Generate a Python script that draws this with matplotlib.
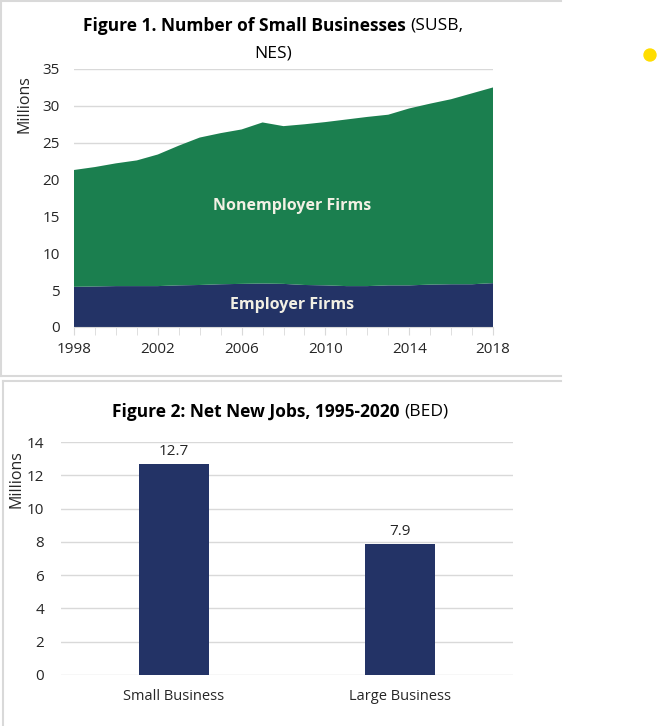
import matplotlib
matplotlib.use("Agg")
import matplotlib.pyplot as plt
from matplotlib.lines import Line2D
from matplotlib.patches import Ellipse
import numpy as np

plt.rcParams['font.family'] = ['Open Sans', 'DejaVu Sans']

# Figure 1 data (millions)
years = list(range(1998, 2019))
employer = [5.45, 5.5, 5.55, 5.55, 5.55, 5.65, 5.7, 5.8, 5.85, 5.9, 5.85,
            5.7, 5.65, 5.55, 5.55, 5.65, 5.65, 5.75, 5.8, 5.8, 5.95]
total = [21.3, 21.7, 22.2, 22.6, 23.4, 24.6, 25.7, 26.3, 26.8, 27.75, 27.25,
         27.5, 27.8, 28.15, 28.5, 28.8, 29.65, 30.3, 30.9, 31.7, 32.5]
nonemployer = [t - e for t, e in zip(total, employer)]

# Figure 2 data (millions)
categories = ["Small Business", "Large Business"]
net_jobs = [12.7, 7.9]

GREEN = "#1b7f4f"
NAVY = "#233366"
GRID = "#d9d9d9"
TICK = "#262626"

W, H = 657, 726
fig = plt.figure(figsize=(W / 100, H / 100), dpi=100)


def fx(px):
    return px / W


def fy(py):
    return 1 - py / H


def mixed_title(cx, cy, bold, regular, size):
    # bold part followed by regular part, centered as a whole
    r = fig.canvas.get_renderer()
    tb = fig.text(0, fy(cy), bold, fontsize=size, fontweight='bold', va='center', ha='left')
    tr = fig.text(0, fy(cy), regular, fontsize=size, va='center', ha='left')
    wb = tb.get_window_extent(r).width
    wr = tr.get_window_extent(r).width
    x0 = cx - (wb + wr) / 2
    tb.set_x(fx(x0))
    tr.set_x(fx(x0 + wb))


# ---- Figure 1: stacked area ----
ax1 = fig.add_axes([fx(74), fy(327), fx(493 - 74), (327 - 69) / H])
ax1.stackplot(years, employer, nonemployer, colors=[NAVY, GREEN], linewidth=0)
ax1.set_xlim(1998, 2018)
ax1.set_ylim(0, 35)
ax1.set_yticks(range(0, 36, 5))
ax1.set_xticks(range(1998, 2019, 4))
ax1.set_xticks(years, minor=True)
ax1.grid(axis='y', color=GRID, lw=1)
ax1.set_axisbelow(True)
for s in ['top', 'right', 'left']:
    ax1.spines[s].set_visible(False)
ax1.spines['bottom'].set_color(GRID)
ax1.tick_params(axis='y', length=0, pad=10, labelsize=11, labelcolor=TICK)
ax1.tick_params(axis='x', which='both', length=6, color=GRID, pad=5, labelsize=11, labelcolor=TICK)
ax1.set_ylabel("Millions", fontsize=11.5, color=TICK)
ax1.yaxis.set_label_coords(-0.1, 0.865)
ax1.text(2008.4, 16.4, "Nonemployer Firms", color="#f2f0e4", fontsize=11.5,
         fontweight='bold', ha='center', va='center')
ax1.text(2008.4, 3.0, "Employer Firms", color="#f2f0e4", fontsize=11.5,
         fontweight='bold', ha='center', va='center')

mixed_title(273.5, 26, "Figure 1. Number of Small Businesses ", "(SUSB,", 12.5)
fig.text(fx(273), fy(53), "NES)", fontsize=12.5, ha='center', va='center')

# ---- Figure 2: bars ----
ax2 = fig.add_axes([fx(61), fy(675), fx(513 - 61), (675 - 442) / H])
xpos = np.arange(len(categories))
bars = ax2.bar(xpos, net_jobs, width=0.313, color=NAVY)
ax2.set_xlim(-0.5, 1.5)
ax2.set_ylim(0, 14)
ax2.set_yticks(range(0, 15, 2))
ax2.set_xticks(xpos)
ax2.set_xticklabels(categories)
ax2.grid(axis='y', color=GRID, lw=1)
ax2.set_axisbelow(True)
for s in ax2.spines.values():
    s.set_visible(False)
ax2.tick_params(axis='y', length=0, pad=12, labelsize=11, labelcolor=TICK)
ax2.tick_params(axis='x', length=0, pad=10, labelsize=10.5, labelcolor=TICK)
ax2.set_ylabel("Millions", fontsize=11.5, color=TICK)
ax2.yaxis.set_label_coords(-0.08, 0.84)
for b, v in zip(bars, net_jobs):
    ax2.annotate(f"{v}", (b.get_x() + b.get_width() / 2, v), xytext=(0, 3),
                 textcoords='offset points', ha='center', va='bottom',
                 fontsize=11, color=TICK)

mixed_title(280, 412, "Figure 2: Net New Jobs, 1995-2020 ", "(BED)", 12.5)

# ---- panel borders ----
def hline(y, x0, x1):
    fig.add_artist(Line2D([fx(x0), fx(x1)], [fy(y), fy(y)], color=GRID, lw=1.5))


def vline(x, y0, y1):
    fig.add_artist(Line2D([fx(x), fx(x)], [fy(y0), fy(y1)], color=GRID, lw=1.5))


hline(1, 1, 561)
vline(1, 1, 376)
hline(376, 1, 561)
hline(381, 3, 561)
vline(3, 381, 726)

# yellow marker dot
fig.add_artist(Ellipse((fx(650), fy(55)), 12 / W, 12 / H, color="#ffdd00"))

fig.savefig("out.png", dpi=100)
